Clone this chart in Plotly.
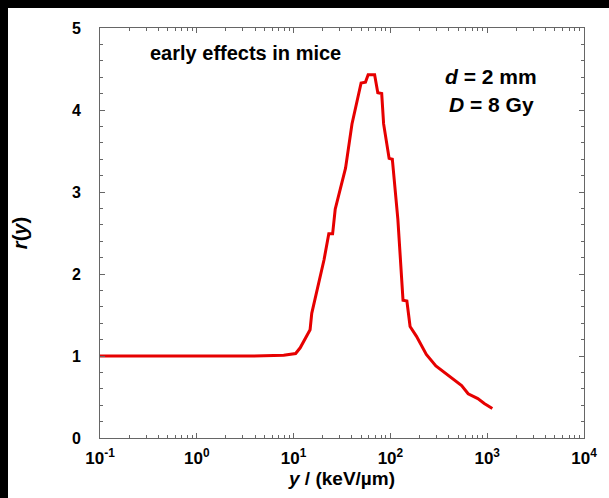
import plotly.graph_objects as go

# lineal energy y (keV/um) and r(y)
lineal_energy = [0.1, 3.7, 7.9, 10.5, 11.7, 13.7, 14.8, 15.4, 18.6, 20.6, 23.1, 25.3,
                 26.9, 30.7, 34.4, 40.1, 49.8, 55.3, 58.9, 68.7, 74.1, 81.3, 85.1,
                 97, 104.7, 119.4, 135, 148, 159.7, 186, 235, 295, 401, 544, 636,
                 800, 933, 1130]
r_values = [1.00, 1.00, 1.01, 1.03, 1.10, 1.26, 1.32, 1.52, 1.94, 2.17, 2.49, 2.49,
            2.79, 3.07, 3.29, 3.83, 4.33, 4.34, 4.43, 4.43, 4.21, 4.20, 3.83,
            3.41, 3.40, 2.67, 1.68, 1.67, 1.36, 1.24, 1.02, 0.88, 0.76, 0.64, 0.54,
            0.48, 0.42, 0.36]

x_tickvals = [0.1, 1, 10, 100, 1000, 10000]
x_ticktext = ['10<sup>-1</sup>', '10<sup>0</sup>', '10<sup>1</sup>',
              '10<sup>2</sup>', '10<sup>3</sup>', '10<sup>4</sup>']
y_tickvals = [0, 1, 2, 3, 4, 5]

FONT = 'Liberation Sans, Arial, sans-serif'
AXIS_COLOR = '#666666'

fig = go.Figure()

fig.add_trace(go.Scatter(
    x=lineal_energy,
    y=r_values,
    mode='lines',
    line=dict(color='#e60000', width=3),
    showlegend=False,
))

fig.update_xaxes(
    type='log',
    range=[-1, 4],
    tickmode='array',
    tickvals=x_tickvals,
    ticktext=x_ticktext,
    ticks='inside',
    ticklen=5,
    tickcolor=AXIS_COLOR,
    minor=dict(ticks='inside', ticklen=3, dtick='D1', tickcolor=AXIS_COLOR, showgrid=False),
    showline=True,
    linecolor=AXIS_COLOR,
    linewidth=1,
    mirror='ticks',
    showgrid=False,
    zeroline=False,
    ticklabelstandoff=5,
    tickfont=dict(family=FONT, size=17, color='black', weight='bold'),
    title=dict(text='<i>y</i> / (keV/µm)', standoff=4,
               font=dict(family=FONT, size=19, color='black', weight='bold')),
)

fig.update_yaxes(
    range=[0, 5],
    tickmode='array',
    tickvals=y_tickvals,
    ticks='inside',
    ticklen=5,
    tickcolor=AXIS_COLOR,
    minor=dict(ticks='inside', ticklen=3, dtick=0.2, tickcolor=AXIS_COLOR, showgrid=False),
    showline=True,
    linecolor=AXIS_COLOR,
    linewidth=1,
    mirror='ticks',
    showgrid=False,
    zeroline=False,
    ticklabelstandoff=15,
    tickfont=dict(family=FONT, size=16, color='black', weight='bold'),
    title=dict(text='<i>r</i>(<i>y</i>)', standoff=38,
               font=dict(family=FONT, size=20, color='black', weight='bold')),
)

# text labels inside the plot
fig.add_annotation(x=0.30, y=0.94, xref='paper', yref='paper',
                   text='early effects in mice', showarrow=False,
                   xanchor='center', yanchor='middle',
                   font=dict(family=FONT, size=20, color='black', weight='bold'))
fig.add_annotation(x=0.808, y=0.882, xref='paper', yref='paper',
                   text='<i>d</i> = 2 mm', showarrow=False,
                   xanchor='center', yanchor='middle',
                   font=dict(family=FONT, size=21, color='black', weight='bold'))
fig.add_annotation(x=0.808, y=0.814, xref='paper', yref='paper',
                   text='<i>D</i> = 8 Gy', showarrow=False,
                   xanchor='center', yanchor='middle',
                   font=dict(family=FONT, size=21, color='black', weight='bold'))

# figure fills the window below/right of an 8px black page edge
fig.update_layout(
    width=601,
    height=490,
    margin=dict(l=85, r=16, t=15, b=60),
    paper_bgcolor='white',
    plot_bgcolor='white',
)

page_js = ("document.body.style.background = 'black';"
           "document.body.style.margin = '8px 0 0 8px';")
fig.write_html('out.html', post_script=page_js,
               config={'responsive': False, 'displayModeBar': False})
